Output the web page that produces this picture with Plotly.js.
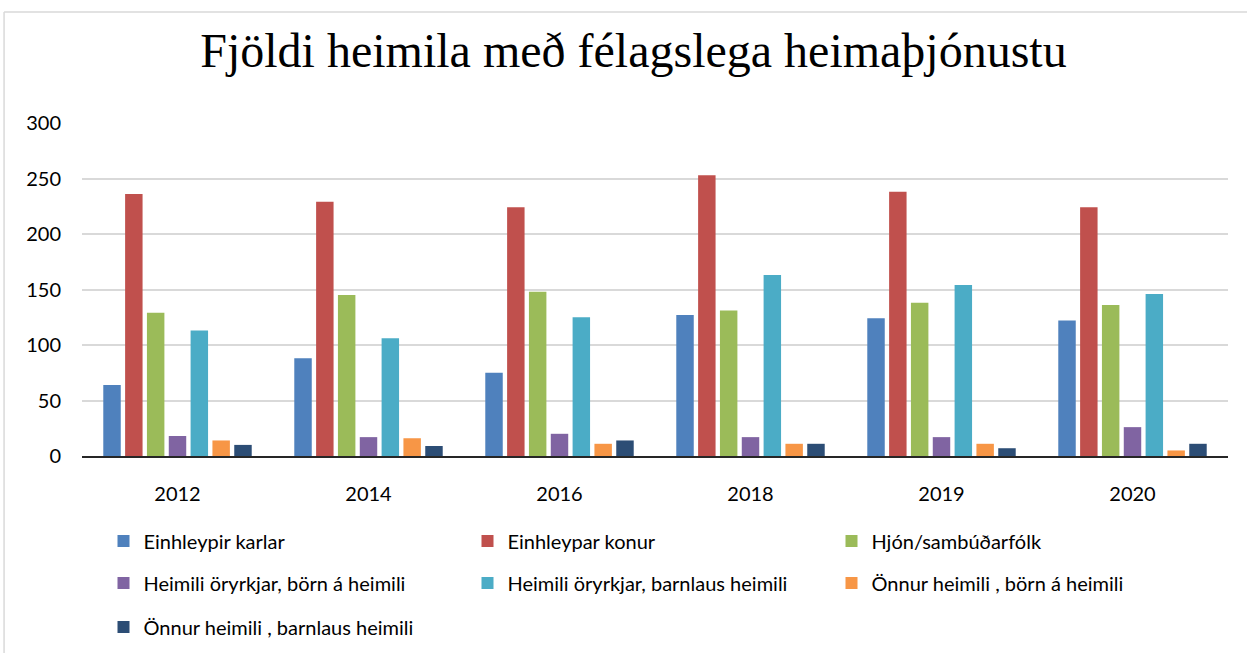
<!DOCTYPE html>
<html><head><meta charset="utf-8">
<script src="https://cdn.plot.ly/plotly-3.0.1.min.js"></script>
<style>html,body{margin:0;padding:0;background:#fff}#chart{width:1247px;height:653px}</style>
</head><body><div id="chart"></div>
<script>
const years = ['2012','2014','2016','2018','2019','2020'];
const seriesNames = ['Einhleypir karlar','Einhleypar konur','Hjón/sambúðarfólk','Heimili öryrkjar, börn á heimili','Heimili öryrkjar, barnlaus heimili','Önnur heimili , börn á heimili','Önnur heimili , barnlaus heimili'];
const einhleypirKarlar = [64, 88, 75, 127, 124, 122];
const einhleyparKonur = [236, 229, 224, 253, 238, 224];
const hjonSambud = [129, 145, 148, 131, 138, 136];
const oryrkjarBorn = [18, 17, 20, 17, 17, 26];
const oryrkjarBarnlaus = [113, 106, 125, 163, 154, 146];
const onnurBorn = [14, 16, 11, 11, 11, 5];
const onnurBarnlaus = [10, 9, 14, 11, 7, 11];
const seriesValues = [einhleypirKarlar, einhleyparKonur, hjonSambud, oryrkjarBorn, oryrkjarBarnlaus, onnurBorn, onnurBarnlaus];
const colors = ['#4F81BD','#C0504D','#9BBB59','#8064A2','#4BACC6','#F79646','#2C4D75'];
const legendIds = ['legend','legend','legend','legend2','legend2','legend2','legend3'];

const traces = seriesNames.map((n,i)=>({
  type:'bar', name:n, x:years, y:seriesValues[i],
  marker:{color:colors[i]}, legend:legendIds[i], hoverinfo:'x+y+name'
}));

const legFont = {family:'Lato, "Open Sans", sans-serif', size:20, color:'#000'};
const legBase = {orientation:'h', xref:'container', yref:'container', x:0.083, xanchor:'left', yanchor:'middle',
  entrywidth:319, entrywidthmode:'pixels', font:legFont, bgcolor:'rgba(0,0,0,0)', itemclick:false, itemdoubleclick:false, traceorder:'normal'};

const tickFont = {family:'Lato, "Open Sans", sans-serif', size:20, color:'#000'};
const layout = {
  width:1247, height:653,
  margin:{l:82, r:19, t:123, b:197},
  paper_bgcolor:'#fff', plot_bgcolor:'#fff',
  title:{text:'Fjöldi heimila með félagslega heimaþjónustu', font:{family:'"Liberation Serif", "Times New Roman", serif', size:48, color:'#000'},
    xref:'container', x:0.508, xanchor:'center', yref:'container', y:1-50/653, yanchor:'middle'},
  barmode:'group', bargap:0.2, bargroupgap:0.2,
  xaxis:{type:'category', showgrid:false, showline:true, linecolor:'#262626', linewidth:2, ticks:'',
    tickfont:tickFont, ticklabelstandoff:19, fixedrange:true},
  yaxis:{range:[0,300], tickvals:[0,50,100,150,200,250,300], showgrid:true, gridcolor:'#d9d9d9', gridwidth:1.5,
    zeroline:false, showline:false, ticks:'', tickfont:tickFont,
    ticklabelstandoff:20, fixedrange:true},
  legend:Object.assign({}, legBase, {y:1-541/653}),
  legend2:Object.assign({}, legBase, {y:1-583/653}),
  legend3:Object.assign({}, legBase, {y:1-627/653}),
  shapes:[
    {type:'line', xref:'paper', yref:'paper', x0:-0.068, x1:1.2, y0:(456-12)/333, y1:(456-12)/333, line:{color:'#d9d9d9', width:1.5}, layer:'below'},
    {type:'line', xref:'paper', yref:'paper', x0:-0.068, x1:-0.068, y0:(456-12)/333, y1:-1, line:{color:'#d9d9d9', width:1.5}, layer:'below'}
  ],
  showlegend:true
};
Plotly.newPlot('chart', traces, layout, {displayModeBar:false});
</script></body></html>
